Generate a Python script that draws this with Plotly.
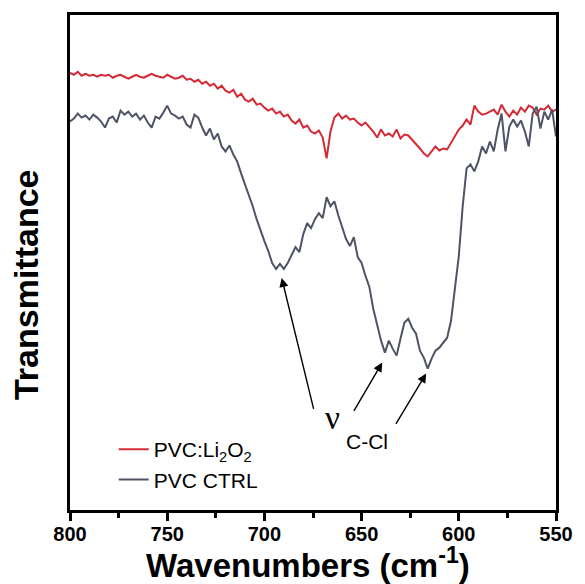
import plotly.graph_objects as go

# Wavenumber sampling grid (cm^-1), 800 -> 550
wavenumbers = list(range(800, 549, -2))

# Transmittance (arbitrary units)
pvc_li2o2 = [
    87.8, 87.4, 88.0, 87.2, 87.6, 87.2, 87.4, 87.0, 87.4, 87.2,
    87.4, 86.8, 87.2, 87.4, 87.0, 86.6, 87.0, 87.4, 87.0, 86.8,
    87.2, 87.6, 87.2, 87.0, 86.8, 87.4, 87.0, 86.6, 86.8, 87.2,
    86.4, 86.6, 86.0, 86.4, 85.6, 86.0, 85.2, 85.6, 84.6, 85.2,
    84.2, 83.8, 84.4, 83.0, 83.6, 82.4, 82.0, 82.6, 81.4, 81.6,
    80.8, 80.2, 80.6, 79.6, 80.0, 79.0, 79.4, 78.2, 77.6, 78.4,
    76.8, 77.2, 76.0, 75.6, 76.2, 74.8, 70.6, 76.0, 78.8, 79.6,
    78.6, 79.2, 78.4, 78.6, 77.8, 77.2, 77.8, 77.0, 76.0, 74.8,
    76.4, 75.2, 75.6, 75.0, 76.4, 74.6, 75.4, 75.2, 74.4, 73.6,
    72.6, 71.6, 71.0, 72.0, 73.0, 72.2, 72.6, 72.4, 73.8, 75.0,
    76.4, 77.2, 78.4, 77.4, 81.2, 80.0, 79.4, 79.6, 80.0, 80.4,
    79.4, 81.4, 80.0, 79.0, 80.2, 79.4, 80.8, 80.0, 81.2, 80.8,
    79.4, 80.6, 80.4, 81.2, 80.0, 80.4,
]

pvc_ctrl = [
    78.0, 78.6, 79.6, 78.8, 79.2, 78.4, 79.4, 78.8, 78.0, 76.8,
    78.6, 79.0, 77.8, 80.2, 79.4, 80.0, 79.0, 79.6, 78.4, 79.2,
    77.8, 76.8, 79.0, 78.6, 79.8, 81.2, 79.6, 79.2, 78.6, 79.0,
    77.4, 76.8, 79.4, 78.8, 76.8, 75.2, 76.6, 74.4, 75.6, 73.0,
    72.0, 73.2, 71.4, 70.0, 67.6, 65.4, 63.4, 61.0, 58.4, 56.0,
    54.0, 52.0, 49.6, 48.4, 49.4, 48.4, 49.6, 51.2, 52.8, 51.8,
    55.4, 57.6, 56.6, 58.4, 59.6, 58.6, 62.8, 61.0, 62.0, 59.2,
    57.0, 54.4, 53.0, 54.8, 50.8, 49.6, 47.0, 44.8, 40.4, 37.0,
    34.0, 31.6, 34.0, 32.4, 31.0, 34.4, 37.6, 38.4, 36.6, 35.4,
    32.0, 30.6, 28.4, 30.4, 32.0, 32.6, 33.6, 34.6, 38.0, 44.0,
    51.0, 61.0, 68.6, 69.4, 68.0, 70.0, 73.0, 71.6, 74.0, 72.0,
    76.4, 79.6, 72.0, 77.0, 78.4, 77.0, 78.2, 76.0, 73.0, 79.6,
    81.0, 76.6, 80.0, 78.4, 80.4, 75.0,
]

x_ticks = [800, 750, 700, 650, 600, 550]

fig = go.Figure()
fig.add_trace(go.Scatter(x=wavenumbers, y=pvc_li2o2, mode="lines",
                         name="PVC:Li<sub>2</sub>O<sub>2</sub>",
                         line=dict(color="#d42a35", width=2)))
fig.add_trace(go.Scatter(x=wavenumbers, y=pvc_ctrl, mode="lines",
                         name="PVC CTRL",
                         line=dict(color="#4e5466", width=2)))

fig.update_layout(
    width=585, height=584,
    margin=dict(l=70, r=17, t=13, b=74),
    paper_bgcolor="white", plot_bgcolor="white",
    font=dict(family="Liberation Sans, Arial, sans-serif", color="black"),
    showlegend=True,
    legend=dict(x=0.09, y=0.02, xanchor="left", yanchor="bottom",
                font=dict(size=21, family="Liberation Sans, Arial, sans-serif"),
                bgcolor="rgba(0,0,0,0)", tracegroupgap=0),
    xaxis=dict(range=[800, 550], tickvals=x_ticks, ticks="outside",
               ticklen=8, tickwidth=2.5, tickcolor="black",
               minor=dict(dtick=25, ticks="outside", ticklen=5, tickwidth=2.5, tickcolor="black"),
               showline=True, linewidth=3, linecolor="black", mirror=True,
               showgrid=False, zeroline=False,
               tickfont=dict(size=20, family="Liberation Sans, Arial, sans-serif", weight="bold")),
    yaxis=dict(range=[0, 99.4], showticklabels=False, ticks="",
               showline=True, linewidth=3, linecolor="black", mirror=True,
               showgrid=False, zeroline=False),
)
try:
    fig.update_xaxes(ticklabelstandoff=-4)
except Exception:
    pass

annotations = [
    dict(text="<b>Wavenumbers (cm<sup>-1</sup>)</b>", xref="paper", yref="paper",
         x=0.49, y=-0.108, xanchor="center", yanchor="middle", showarrow=False,
         font=dict(size=33, family="Liberation Sans, Arial, sans-serif")),
    dict(text="<b>Transmittance</b>", xref="paper", yref="paper",
         x=-0.092, y=0.455, xanchor="center", yanchor="middle", showarrow=False,
         textangle=-90, font=dict(size=34, family="Liberation Sans, Arial, sans-serif")),
    dict(text="ν", xref="x", yref="y", x=665.0, y=18.5, showarrow=False,
         xanchor="center", yanchor="middle",
         font=dict(size=33, family="Liberation Serif, Times New Roman, serif")),
    dict(text="C-Cl", xref="x", yref="y", x=659.0, y=13.8, showarrow=False,
         xanchor="left", yanchor="middle",
         font=dict(size=21, family="Liberation Sans, Arial, sans-serif")),
]
arrows = [((691.1, 46.6), (674.5, 20.0)),
          ((639.4, 29.6), (654.4, 19.6)),
          ((616.8, 27.4), (632.8, 17.0))]
for (hx, hy), (tx, ty) in arrows:
    annotations.append(dict(text="", x=hx, y=hy, ax=tx, ay=ty, xref="x", yref="y",
                            axref="x", ayref="y", showarrow=True, arrowhead=2,
                            arrowsize=1.3, arrowwidth=1.4, arrowcolor="black", standoff=0))
fig.update_layout(annotations=annotations)

fig.write_html("out.html")
